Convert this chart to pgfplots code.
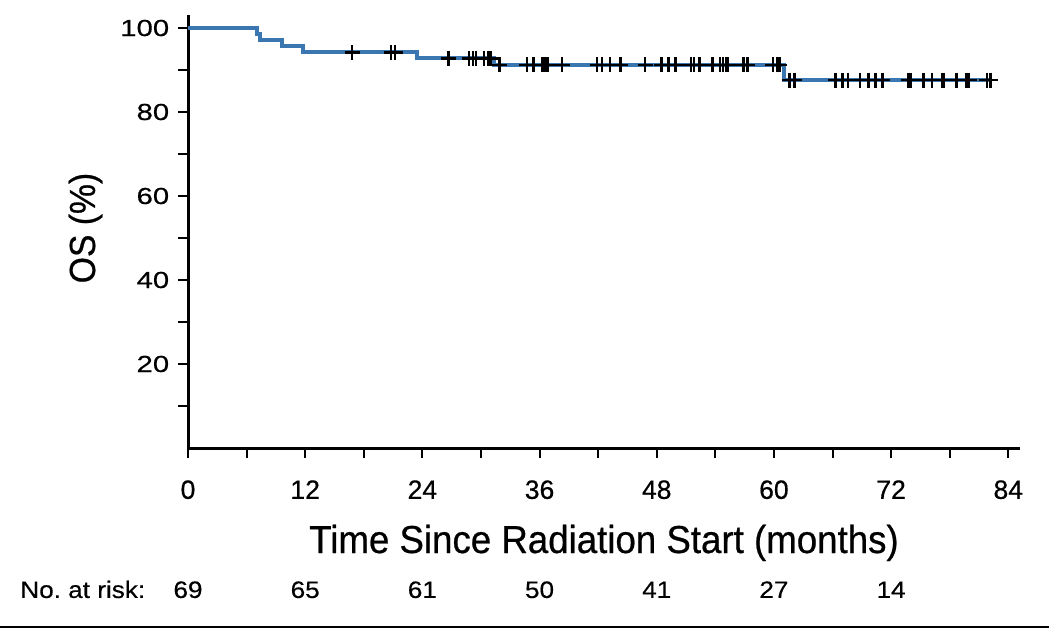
\documentclass[border=0pt]{standalone}
\usepackage{fontspec}
\setmainfont{Liberation Sans}
\newfontfamily\ytickfont{Liberation Sans}[FakeStretch=1.26, FakeBold=0.5]
\newfontfamily\xtickfont{Liberation Sans}[FakeBold=0.5]
\newfontfamily\xlabfont{Liberation Sans}[FakeStretch=0.94, FakeBold=0.6]
\newfontfamily\ylabfont{Liberation Sans}[FakeStretch=0.93, FakeBold=0.6]
\newfontfamily\riskfont{Liberation Sans}[FakeStretch=1.1, FakeBold=0.4]
\usepackage{pgfplots}
\pgfplotsset{compat=1.18}
\definecolor{kmblue}{RGB}{58,118,175}
\begin{document}
\begin{tikzpicture}
\path[use as bounding box] (0,0) rectangle (419.6pt,251.6pt);
\begin{axis}[
    at={(75.2pt,72.4pt)}, anchor=south west,
    scale only axis,
    width=332.8pt, height=173.2pt,
    xmin=0, xmax=85.2, ymin=0, ymax=103.1,
    axis x line=bottom, axis y line=left,
    axis line style={-, line width=1.2pt},
    tick align=outside,
    major tick length=4pt, minor tick length=4pt,
    every tick/.style={black, line width=0.8pt},
    xtick={0,12,...,84}, minor xtick={6,18,...,78},
    ytick={20,40,60,80,100}, minor ytick={10,30,...,90},
    /pgf/number format/assume math mode=true,
    yticklabel style={font=\ytickfont\fontsize{9.3}{11}\selectfont},
    xticklabel style={font=\xtickfont\fontsize{10.6}{12}\selectfont, yshift=-5.4pt},
    xlabel={Time Since Radiation Start (months)},
    xlabel style={at={(axis description cs:0.5,-0.2425)}, anchor=base,
        font=\xlabfont\fontsize{15.6}{18}\selectfont},
    ylabel={OS (\%)},
    ylabel style={at={(axis description cs:-0.1118,0.508)}, anchor=base,
        font=\ylabfont\fontsize{14.5}{17}\selectfont},
    clip=false,
]
% Kaplan-Meier step curve
\addplot[kmblue, line width=1.6pt, const plot mark left, mark=none] coordinates {
    (0,100) (7.07,98.55) (7.4,97.1) (9.6,95.65) (11.8,94.2)
    (23.4,92.8) (31.3,91.2) (61.0,87.6) (82.2,87.6)
};
% censored observations
\addplot[only marks, mark=+, mark size=3pt, black, line width=1pt] coordinates {
    (16.8,94.2) (20.8,94.2) (21.2,94.2)
    (26.7,92.8) (28.8,92.8) (29.2,92.8) (29.5,92.8) (30.3,92.8) (30.7,92.8) (31.0,92.8)
    (31.9,91.2) (34.7,91.2) (35.4,91.2) (36.3,91.2) (36.6,91.2) (36.8,91.2) (38.3,91.2)
    (41.9,91.2) (42.4,91.2) (43.2,91.2) (44.3,91.2) (46.8,91.2) (48.5,91.2) (49.2,91.2)
    (49.9,91.2) (51.5,91.2) (51.8,91.2) (52.4,91.2) (53.7,91.2) (54.5,91.2) (54.8,91.2)
    (55.1,91.2) (55.3,91.2) (56.9,91.2) (57.3,91.2) (59.9,91.2) (60.3,91.2) (60.45,91.2)
    (60.6,91.2)
    (61.6,87.6) (62.1,87.6) (66.3,87.6) (67.0,87.6) (67.6,87.6) (68.8,87.6) (69.7,87.6)
    (70.4,87.6) (71.1,87.6) (73.8,87.6) (74.0,87.6) (75.3,87.6) (76.2,87.6) (77.2,87.6)
    (77.4,87.6) (78.7,87.6) (79.7,87.6) (80.0,87.6) (81.8,87.6) (82.2,87.6)
};
% number at risk
\begin{scope}[font=\riskfont\fontsize{9.5}{11}\selectfont]
\node[anchor=base east] at (axis cs:-3.48,-35.7) {No.\ at risk:};
\node[anchor=base] at (axis cs:0,-35.7) {69};
\node[anchor=base] at (axis cs:12,-35.7) {65};
\node[anchor=base] at (axis cs:24,-35.7) {61};
\node[anchor=base] at (axis cs:36,-35.7) {50};
\node[anchor=base] at (axis cs:48,-35.7) {41};
\node[anchor=base] at (axis cs:60,-35.7) {27};
\node[anchor=base] at (axis cs:72,-35.7) {14};
\end{scope}
\end{axis}
\draw[line width=0.8pt] (0,0.9pt) -- (419.6pt,0.9pt);
\end{tikzpicture}
\end{document}
